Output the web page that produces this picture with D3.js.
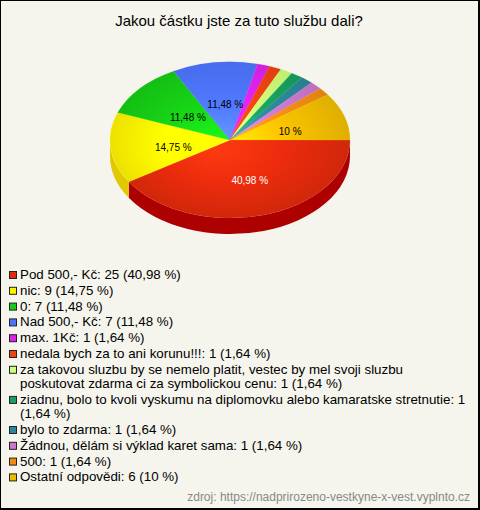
<!DOCTYPE html>
<html>
<head>
<meta charset="utf-8">
<script src="https://cdn.jsdelivr.net/npm/d3@7"></script>
<style>
  html, body { margin: 0; padding: 0; background: #fff; }
  svg { display: block; }
  text { font-family: "Liberation Sans", Arial, sans-serif; }
</style>
</head>
<body>
<svg id="chart" width="480" height="510"></svg>
<script>
const title = "Jakou částku jste za tuto službu dali?";
const source = "zdroj: https://nadprirozeno-vestkyne-x-vest.vyplnto.cz";
const categories = [
  "Pod 500,- Kč",
  "nic",
  "0",
  "Nad 500,- Kč",
  "max. 1Kč",
  "nedala bych za to ani korunu!!!",
  "za takovou sluzbu by se nemelo platit, vestec by mel svoji sluzbu poskutovat zdarma ci za symbolickou cenu",
  "ziadnu, bolo to kvoli vyskumu na diplomovku alebo kamaratske stretnutie",
  "bylo to zdarma",
  "Žádnou, dělám si výklad karet sama",
  "500",
  "Ostatní odpovědi"
];
const counts = [25, 9, 7, 7, 1, 1, 1, 1, 1, 1, 1, 6];
const percents = ["40,98", "14,75", "11,48", "11,48", "1,64", "1,64", "1,64", "1,64", "1,64", "1,64", "1,64", "10"];
const colors = ["#e02a0c", "#fff200", "#16cc16", "#4d74ff", "#dd22ee", "#ee4411",
                "#ccff77", "#18a060", "#2a8898", "#cc77cc", "#f08c10", "#f0bc00"];
const sideColors = ["#ad0000", "#e2c800", "#10a010", "#3a5ad0", "#b010c0", "#c03000",
                    "#a0d050", "#108048", "#1e6a78", "#a050a0", "#c06a00", "#d0a000"];

const W = 480, H = 510;
const cx = 230, cy = 140, rx = 120, ry = 78, depth = 16;

const svg = d3.select("#chart");
const defs = svg.append("defs");

// frame
svg.append("rect").attr("x", 0).attr("y", 0).attr("width", W).attr("height", H).attr("fill", "#000");
svg.append("rect").attr("x", 1).attr("y", 1).attr("width", W - 3).attr("height", H - 3).attr("fill", "#f5f5ed");

// title
svg.append("text").attr("x", 239).attr("y", 26).attr("text-anchor", "middle")
  .attr("font-size", 15).attr("fill", "#000").text(title);

const pie = d3.pie().sort(null).value(d => d)
  .startAngle(Math.PI / 2).endAngle(Math.PI / 2 + 2 * Math.PI);
const arcs = pie(counts);

// gradients for top faces
arcs.forEach((a, i) => {
  const baseC = d3.color(colors[i]);
  const g = defs.append("radialGradient").attr("id", "g" + i)
    .attr("gradientUnits", "userSpaceOnUse").attr("cx", 0).attr("cy", 0).attr("r", rx)
    .attr("fx", -15).attr("fy", 15);
  g.append("stop").attr("offset", "0%").attr("stop-color", baseC.brighter(0.9).formatHex());
  g.append("stop").attr("offset", "50%").attr("stop-color", baseC.brighter(0.15).formatHex());
  g.append("stop").attr("offset", "100%").attr("stop-color", baseC.darker(0.2).formatHex());
});

// sides (front half only)
const pt = (a, dy) => [cx + rx * Math.sin(a), cy - ry * Math.cos(a) + dy];
const sideG = svg.append("g");
arcs.forEach((a, i) => {
  const a0 = Math.max(a.startAngle, Math.PI / 2);
  const a1 = Math.min(a.endAngle, 3 * Math.PI / 2);
  if (a0 >= a1) return;
  const p0 = pt(a0, 0), p1 = pt(a1, 0), q1 = pt(a1, depth), q0 = pt(a0, depth);
  const d = `M${p0[0]},${p0[1]} A${rx},${ry} 0 0 1 ${p1[0]},${p1[1]} L${q1[0]},${q1[1]} A${rx},${ry} 0 0 0 ${q0[0]},${q0[1]} Z`;
  sideG.append("path").attr("d", d).attr("fill", sideColors[i]);
});

// top faces
const arcGen = d3.arc().innerRadius(0).outerRadius(rx);
const topG = svg.append("g").attr("transform", `translate(${cx},${cy}) scale(1,${ry / rx})`);
topG.selectAll("path").data(arcs).join("path")
  .attr("d", arcGen)
  .attr("fill", (d, i) => `url(#g${i})`)
  .attr("stroke", (d, i) => colors[i]).attr("stroke-width", 0.3);

// slice labels
const total = d3.sum(counts);
arcs.forEach((a, i) => {
  if (counts[i] / total < 0.05) return;
  const m = (a.startAngle + a.endAngle) / 2;
  const x = cx + 0.5 * rx * Math.sin(m) + 3;
  const y = cy - 0.5 * ry * Math.cos(m) + 6.5;
  svg.append("text").attr("x", x).attr("y", y).attr("text-anchor", "middle")
    .attr("font-size", 10).attr("fill", i === 0 ? "#fff" : "#000")
    .text(percents[i] + " %");
});

// legend
const legend = svg.append("g");
const maxW = 448, itemStep = 15.8, wrapStep = 14.3;
let baseY = 279;
categories.forEach((c, i) => {
  const full = `${c}: ${counts[i]} (${percents[i]} %)`;
  legend.append("rect").attr("x", 9.5).attr("y", baseY - 7.5).attr("width", 7).attr("height", 7)
    .attr("fill", colors[i]).attr("stroke", "#222").attr("stroke-width", 1);
  const words = full.split(" ");
  let line = [];
  let y = baseY;
  let cur = legend.append("text").attr("x", 20).attr("y", y).attr("font-size", 13.33).attr("fill", "#000");
  words.forEach(w => {
    line.push(w);
    cur.text(line.join(" "));
    if (cur.node().getComputedTextLength() > maxW && line.length > 1) {
      line.pop();
      cur.text(line.join(" "));
      line = [w];
      y += wrapStep;
      cur = legend.append("text").attr("x", 20).attr("y", y).attr("font-size", 13.33).attr("fill", "#000").text(w);
    }
  });
  baseY = y + itemStep;
});

// source
svg.append("text").attr("x", 470).attr("y", 501).attr("text-anchor", "end")
  .attr("font-size", 12).attr("fill", "#888").text(source);
</script>
</body>
</html>
